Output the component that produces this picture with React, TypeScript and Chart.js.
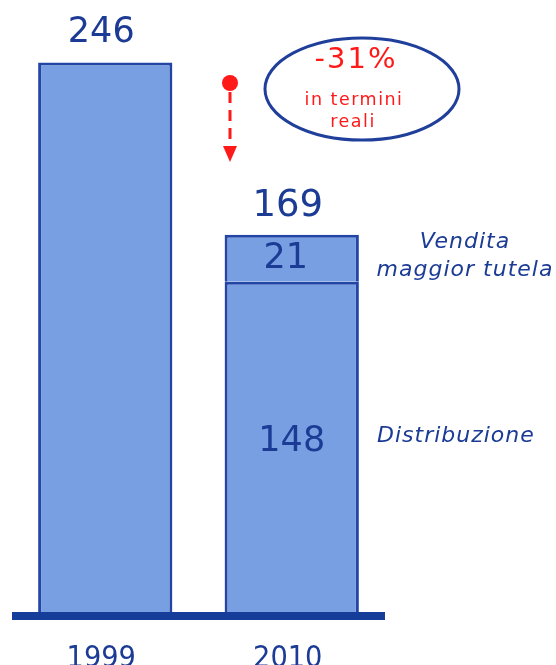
import React, { useEffect, useRef } from "react";
import { Chart, registerables } from "chart.js";

Chart.register(...registerables);

const categories = ["1999", "2010"];
const distribuzione = [246, 148];
const venditaMaggiorTutela = [null, 21];
const totals = [246, 169];
const segmentNames = ["Distribuzione", "Vendita", "maggior tutela"];
const changeLabel = "-31%";
const changeNote = ["in termini", "reali"];

const DARK = "#1b3b95";
const FILL = "#779fe1";
const BORDER = "#2346a6";
const RED = "#ff1a1a";
const FONT = "'DejaVu Sans', Verdana, sans-serif";

const overlay = {
  id: "overlay",
  afterDatasetsDraw(chart: any) {
    const { ctx, chartArea, scales } = chart;
    const x = scales.x;
    const y = scales.y;
    const c: any = ctx;
    ctx.save();
    // baseline
    ctx.fillStyle = "#153d99";
    ctx.fillRect(chartArea.left, chartArea.bottom - 1, chartArea.right - chartArea.left, 8);

    ctx.fillStyle = DARK;
    ctx.textAlign = "center";
    ctx.textBaseline = "alphabetic";
    // year labels
    categories.forEach((cat, i) => {
      ctx.save();
      ctx.translate(x.getPixelForValue(i) - 4, 667);
      ctx.scale(0.88, 1);
      ctx.font = `31px ${FONT}`;
      ctx.fillText(cat, 0, 0);
      ctx.restore();
    });
    // totals
    ctx.font = `35px ${FONT}`;
    ctx.fillText(String(totals[0]), x.getPixelForValue(0) - 4, y.getPixelForValue(totals[0]) - 20);
    ctx.font = `37px ${FONT}`;
    ctx.fillText(String(totals[1]), x.getPixelForValue(1) - 4, y.getPixelForValue(totals[1]) - 19);
    // segment values for 2010
    const x2 = x.getPixelForValue(1);
    const yTop = y.getPixelForValue(totals[1]);
    const yMid = y.getPixelForValue(distribuzione[1]);
    const yBot = y.getPixelForValue(0);
    ctx.font = `35px ${FONT}`;
    ctx.fillText(String(venditaMaggiorTutela[1]), x2 - 6, (yTop + yMid) / 2 + 10);
    ctx.fillText(String(distribuzione[1]), x2, (yMid + yBot) / 2 + 4);

    // right-hand names
    ctx.font = `italic 22px ${FONT}`;
    c.letterSpacing = "1px";
    ctx.fillText(segmentNames[1], 465, 248);
    ctx.fillText(segmentNames[2], 465, 276);
    ctx.textAlign = "left";
    ctx.fillText(segmentNames[0], 377, 442);

    // ellipse
    ctx.beginPath();
    ctx.ellipse(362, 89, 97, 51, 0, 0, Math.PI * 2);
    ctx.strokeStyle = "#1f3f9b";
    ctx.lineWidth = 3;
    ctx.stroke();
    ctx.fillStyle = RED;
    ctx.textAlign = "center";
    ctx.font = `29px ${FONT}`;
    c.letterSpacing = "2px";
    ctx.fillText(changeLabel, 356, 68);
    ctx.font = `17.5px ${FONT}`;
    c.letterSpacing = "1.5px";
    ctx.fillText(changeNote[0], 354, 105);
    ctx.fillText(changeNote[1], 353, 127);
    c.letterSpacing = "0px";

    // red arrow
    ctx.beginPath();
    ctx.arc(230, 83, 8, 0, Math.PI * 2);
    ctx.fill();
    ctx.strokeStyle = RED;
    ctx.lineWidth = 3;
    ctx.setLineDash([11, 7]);
    ctx.beginPath();
    ctx.moveTo(230, 92);
    ctx.lineTo(230, 148);
    ctx.stroke();
    ctx.setLineDash([]);
    ctx.beginPath();
    ctx.moveTo(223, 146);
    ctx.lineTo(237, 146);
    ctx.lineTo(230, 162);
    ctx.closePath();
    ctx.fill();
    ctx.restore();
  },
};

export default function App() {
  const ref = useRef<HTMLCanvasElement>(null);
  useEffect(() => {
    if (!ref.current) return;
    const chart = new Chart(ref.current, {
      type: "bar",
      data: {
        labels: categories,
        datasets: [
          {
            label: segmentNames[0],
            data: distribuzione,
            backgroundColor: FILL,
            borderColor: BORDER,
            borderWidth: 3,
            borderSkipped: "bottom",
          },
          {
            label: segmentNames[1] + " " + segmentNames[2],
            data: venditaMaggiorTutela as any,
            backgroundColor: FILL,
            borderColor: BORDER,
            borderWidth: 3,
            borderSkipped: "bottom",
          },
        ],
      },
      options: {
        animation: false,
        responsive: false,
        layout: { padding: { left: 12, right: 171, top: 58, bottom: 52 } },
        datasets: { bar: { barPercentage: 1, categoryPercentage: 0.72 } },
        plugins: { legend: { display: false }, tooltip: { enabled: false } },
        scales: {
          x: { display: false, stacked: true },
          y: { display: false, stacked: true, min: 0, max: 248 },
        },
      },
      plugins: [overlay],
    });
    return () => chart.destroy();
  }, []);
  return (
    <div style={{ position: "fixed", top: 0, left: 0, width: 556, height: 665, background: "#fff" }}>
      <canvas ref={ref} width={556} height={665} />
    </div>
  );
}
